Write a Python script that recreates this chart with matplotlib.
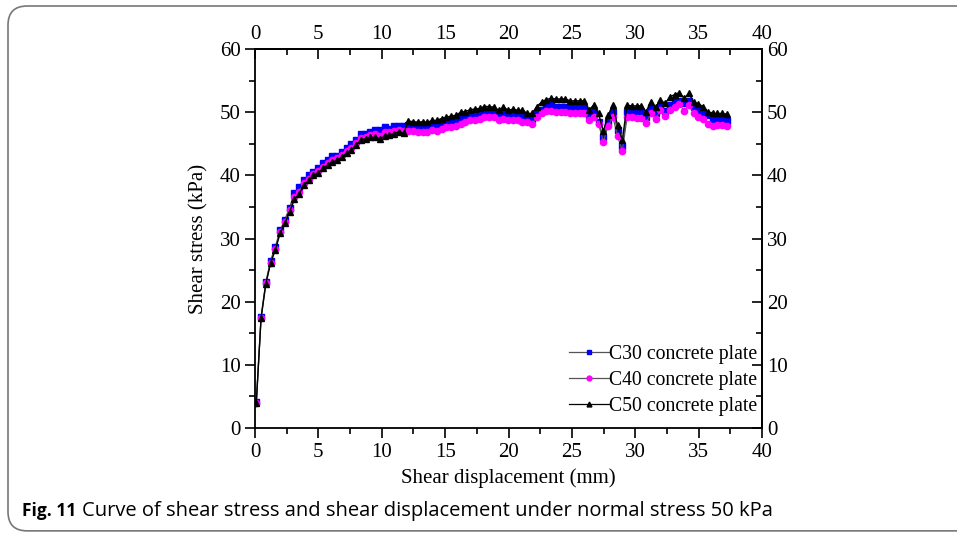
import numpy as np
import matplotlib.pyplot as plt
from matplotlib.patches import FancyBboxPatch
from matplotlib.lines import Line2D

# shear displacement sampled every 0.375 mm (100 readings)
disp = np.round(0.1 + 0.375 * np.arange(100), 3)

c30 = [4.1, 17.6, 23.1, 26.5, 28.7, 31.3, 33.0, 34.9, 37.2, 38.2,
       39.2, 40.0, 40.6, 41.2, 41.9, 42.5, 43.0, 43.1, 43.7, 44.4,
       45.0, 45.6, 46.5, 46.6, 46.9, 47.2, 47.2, 47.6, 47.4, 47.8,
       47.8, 47.8, 47.9, 48.0, 47.9, 47.8, 47.8, 48.0, 47.9, 48.4,
       48.4, 48.5, 48.7, 49.2, 49.3, 49.5, 49.7, 49.8, 50.2, 50.2,
       50.1, 49.4, 50.1, 49.7, 49.8, 49.5, 49.4, 49.2, 49.0, 49.8,
       50.4, 50.8, 51.1, 50.9, 50.8, 50.8, 50.7, 50.7, 50.6, 50.6,
       49.5, 50.0, 48.5, 46.1, 48.5, 50.0, 47.2, 44.6, 50.0, 49.9,
       49.8, 50.0, 49.3, 50.6, 49.8, 50.9, 50.2, 51.1, 51.6, 51.8,
       51.4, 51.8, 50.8, 50.4, 50.0, 49.5, 48.7, 48.7, 48.8, 48.6]

c40 = [4.0, 17.4, 22.9, 26.2, 28.4, 31.0, 32.6, 34.5, 36.6, 37.4,
       38.8, 39.5, 40.2, 40.7, 41.4, 41.9, 42.4, 42.7, 43.2, 43.9,
       44.4, 45.1, 45.9, 46.1, 46.4, 46.5, 46.3, 46.8, 46.8, 47.0,
       47.2, 47.1, 47.0, 47.0, 46.9, 46.8, 46.9, 47.2, 47.0, 47.4,
       47.6, 47.7, 47.8, 48.2, 48.5, 48.7, 48.8, 49.0, 49.3, 49.3,
       49.3, 48.8, 49.0, 48.7, 48.8, 48.7, 48.5, 48.5, 48.2, 49.2,
       49.8, 50.2, 50.2, 50.1, 50.0, 50.0, 49.9, 49.9, 49.9, 49.9,
       48.7, 49.3, 48.2, 45.3, 47.8, 49.3, 46.2, 43.9, 49.2, 49.2,
       49.1, 49.1, 48.3, 49.8, 49.0, 50.3, 49.4, 50.3, 50.9, 51.3,
       50.2, 51.1, 49.9, 49.3, 49.0, 48.2, 47.8, 48.0, 48.0, 47.8]

c50 = [4.0, 17.4, 22.8, 26.1, 28.2, 30.8, 32.4, 34.2, 36.2, 37.0,
       38.5, 39.2, 40.0, 40.4, 41.1, 41.6, 42.1, 42.4, 42.9, 43.5,
       44.0, 44.8, 45.6, 45.8, 46.0, 46.0, 45.8, 46.2, 46.4, 46.6,
       46.9, 46.7, 48.6, 48.5, 48.4, 48.5, 48.4, 48.7, 48.7, 49.0,
       49.2, 49.4, 49.5, 50.0, 50.1, 50.4, 50.5, 50.6, 50.9, 50.9,
       50.8, 50.3, 50.8, 50.3, 50.5, 50.3, 50.3, 49.8, 49.8, 50.9,
       51.6, 52.0, 52.2, 52.1, 52.1, 52.1, 51.8, 51.8, 51.8, 51.8,
       50.4, 51.1, 49.8, 47.0, 49.5, 51.1, 47.9, 45.6, 51.1, 51.0,
       51.0, 51.0, 50.1, 51.6, 50.8, 51.9, 51.4, 52.4, 52.8, 53.1,
       52.2, 53.0, 51.6, 51.3, 50.9, 50.0, 49.8, 49.8, 49.8, 49.7]

labels = ['C30 concrete plate', 'C40 concrete plate', 'C50 concrete plate']

serif = 'Liberation Serif'
fs = 15

fig = plt.figure(figsize=(9.57, 5.33), dpi=100)
ax = fig.add_axes([0.2665, 0.197, 0.5298, 0.711])

ax.plot(disp, c30, color='#555555', lw=0.9, marker='s', ms=4,
        mfc='#0000ff', mec='#0000ff', label=labels[0])
ax.plot(disp, c40, color='#555555', lw=0.9, marker='o', ms=4.5,
        mfc='#ff00ff', mec='#ff00ff', label=labels[1])
ax.plot(disp, c50, color='black', lw=1.0, marker='^', ms=4.8,
        mfc='black', mec='black', label=labels[2])

ax.set_xlim(0, 40)
ax.set_ylim(0, 60)
ax.set_xticks(np.arange(0, 41, 5))
ax.set_yticks(np.arange(0, 61, 10))
ax.set_xticks(np.arange(2.5, 40, 5), minor=True)
ax.set_yticks(np.arange(5, 60, 10), minor=True)
ax.tick_params(which='major', direction='out', length=7, width=1.2,
               labelsize=fs)
ax.tick_params(which='minor', direction='out', length=4, width=1.2)
for lab in ax.get_xticklabels() + ax.get_yticklabels():
    lab.set_fontfamily(serif)
for sp in ax.spines.values():
    sp.set_linewidth(1.3)

top = ax.secondary_xaxis('top')
top.set_xticks(np.arange(0, 41, 5))
top.set_xticks(np.arange(2.5, 40, 5), minor=True)
top.tick_params(which='major', direction='in', length=7, width=1.2, labelsize=fs)
top.tick_params(which='minor', direction='in', length=4, width=1.2)
right = ax.secondary_yaxis('right')
right.set_yticks(np.arange(0, 61, 10))
right.set_yticks(np.arange(5, 60, 10), minor=True)
right.tick_params(which='major', direction='in', length=7, width=1.2, labelsize=fs)
right.tick_params(which='minor', direction='in', length=4, width=1.2)
for sec in (top, right):
    for lab in sec.xaxis.get_ticklabels() + sec.yaxis.get_ticklabels():
        lab.set_fontfamily(serif)
    for sp in sec.spines.values():
        sp.set_linewidth(1.3)

ax.set_xlabel('Shear displacement (mm)', fontsize=fs, family=serif, labelpad=5)
ax.set_ylabel('Shear stress (kPa)', fontsize=fs, family=serif, labelpad=8)

handles = [
    Line2D([], [], color='#555555', lw=0.9, marker='s', ms=3.5,
           mfc='#0000ff', mec='#0000ff'),
    Line2D([], [], color='#555555', lw=0.9, marker='o', ms=3.5,
           mfc='#ff00ff', mec='#ff00ff'),
    Line2D([], [], color='black', lw=0.9, marker='^', ms=3.5,
           mfc='black', mec='black'),
]
ax.legend(handles, labels, loc='lower right', frameon=False,
          prop={'family': serif, 'size': 14.2}, handlelength=2.0,
          handletextpad=0.0, labelspacing=0.35, borderaxespad=0.0,
          bbox_to_anchor=(1.005, 0.012))

# rounded frame around the figure
frame = FancyBboxPatch((8 / 957, 0.004), 1.2, 1 - 6 / 533 - 0.004,
                       boxstyle='round,pad=0,rounding_size=0.02',
                       transform=fig.transFigure, fill=False,
                       ec='#777777', lw=1.2, mutation_aspect=957 / 533)
fig.patches.append(frame)

fig.text(22 / 957, 1 - 511 / 533, 'Fig. 11', fontsize=12.5, family='Open Sans',
         weight='bold', va='center', ha='left')
fig.text(82 / 957, 1 - 511 / 533,
         'Curve of shear stress and shear displacement under normal stress 50 kPa',
         fontsize=14.5, family='Open Sans', va='center', ha='left')

fig.savefig('out.png', dpi=100)
